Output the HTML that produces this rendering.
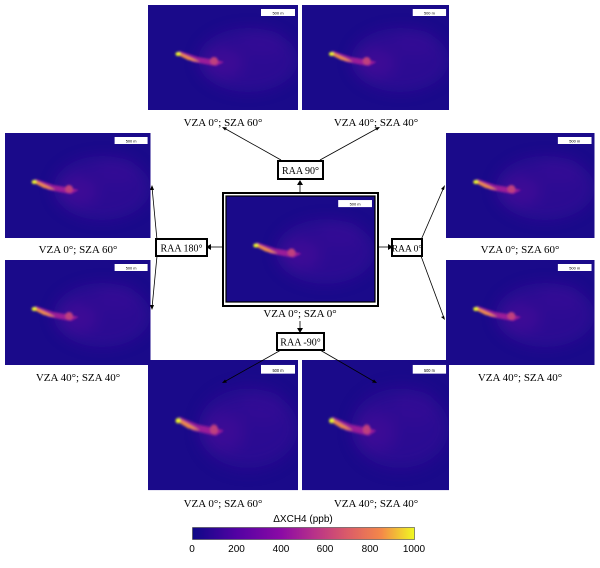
<!DOCTYPE html>
<html><head><style>
body{margin:0;background:#fff;width:600px;height:563px;overflow:hidden;font-family:"Liberation Serif",serif}
</style></head><body>
<svg width="600" height="563" viewBox="0 0 600 563" xmlns="http://www.w3.org/2000/svg">
<defs>
<clipPath id="pc"><rect width="150" height="105"/></clipPath>
<filter id="b1" x="-50%" y="-50%" width="200%" height="200%"><feGaussianBlur stdDeviation="7"/></filter>
<filter id="b2" x="-50%" y="-50%" width="200%" height="200%"><feGaussianBlur stdDeviation="1"/></filter>
<linearGradient id="cb" x1="0" x2="1">
<stop offset="0" stop-color="#0d0887"/><stop offset="0.2" stop-color="#5302a3"/><stop offset="0.4" stop-color="#8b0aa5"/><stop offset="0.55" stop-color="#b83289"/><stop offset="0.7" stop-color="#db5c68"/><stop offset="0.85" stop-color="#f48849"/><stop offset="1" stop-color="#f0f921"/></linearGradient>
<g id="plume">
<g clip-path="url(#pc)">
<rect width="150" height="105" fill="#1a0a8a"/>
<g filter="url(#b1)" opacity="0.55">
<ellipse cx="100" cy="55" rx="50" ry="32" fill="#3a0a9a"/>
<ellipse cx="75" cy="58" rx="20" ry="14" fill="#5a0aa0"/>
<ellipse cx="115" cy="38" rx="22" ry="13" fill="#460a9e"/>
</g>
<g filter="url(#b2)">
<path d="M28 48 L45 57 L68 61 L76 57 L68 55 L50 52 L32 46 Z" fill="#9a1a98"/>
<path d="M28 49 L40 55 L52 57 L44 53 L33 48 Z" fill="#f08a48"/>
<ellipse cx="30" cy="49" rx="2.5" ry="2" fill="#f0f921"/>
<ellipse cx="66" cy="56" rx="4" ry="4" fill="#c0407e"/>
</g>
</g>
<rect x="113" y="4" width="34" height="7" fill="#fff"/>
<text x="130" y="9.5" font-family="Liberation Sans,sans-serif" font-size="4" text-anchor="middle">500 m</text>
</g>
</defs>
<g font-size="11" fill="#000">
<use href="#plume" transform="translate(148,5)"/>
<use href="#plume" transform="translate(302,5) scale(0.98,1)"/>
<text x="223" y="126" text-anchor="middle">VZA 0°; SZA 60°</text>
<text x="376" y="126" text-anchor="middle">VZA 40°; SZA 40°</text>
<use href="#plume" transform="translate(5,133) scale(0.97,1)"/>
<use href="#plume" transform="translate(5,260) scale(0.97,1)"/>
<text x="78" y="253" text-anchor="middle">VZA 0°; SZA 60°</text>
<text x="78" y="381" text-anchor="middle">VZA 40°; SZA 40°</text>
<use href="#plume" transform="translate(446,133) scale(0.99,1)"/>
<use href="#plume" transform="translate(446,260) scale(0.99,1)"/>
<text x="520" y="253" text-anchor="middle">VZA 0°; SZA 60°</text>
<text x="520" y="381" text-anchor="middle">VZA 40°; SZA 40°</text>
<use href="#plume" transform="translate(148,360) scale(1,1.24)"/>
<use href="#plume" transform="translate(302,360) scale(0.98,1.24)"/>
<text x="223" y="507" text-anchor="middle">VZA 0°; SZA 60°</text>
<text x="376" y="507" text-anchor="middle">VZA 40°; SZA 40°</text>
<rect x="223" y="193" width="155" height="113" fill="#fff" stroke="#000" stroke-width="2"/>
<use href="#plume" transform="translate(226,196) scale(0.993,1.01)"/>
<rect x="226" y="196" width="149" height="106" fill="none" stroke="#000" stroke-width="1.2"/>
<text x="300" y="317" text-anchor="middle">VZA 0°; SZA 0°</text>
<g stroke="#000" stroke-width="0.8" fill="none">
<line x1="300" y1="193" x2="300" y2="182"/>
<line x1="281" y1="160" x2="224" y2="128"/>
<line x1="320" y1="160" x2="378" y2="128"/>
<line x1="223" y1="247" x2="208" y2="247"/>
<line x1="157" y1="240" x2="152" y2="187"/>
<line x1="157" y1="256" x2="152" y2="308"/>
<line x1="378" y1="247" x2="391" y2="247"/>
<line x1="421" y1="240" x2="444" y2="187"/>
<line x1="421" y1="256" x2="444" y2="318"/>
<line x1="300" y1="321" x2="300" y2="331"/>
<line x1="281" y1="350" x2="224" y2="382"/>
<line x1="320" y1="350" x2="375" y2="382"/>
</g>
<g fill="#000">
<path d="M300 180 l-3 5 h6z"/>
<path d="M222 127 l5 0.5 l-2 3z"/>
<path d="M380 127 l-5 0.5 l2 3z"/>
<path d="M206 247 l5 -3 v6z"/>
<path d="M152 185 l-2 5 l4 0z"/>
<path d="M152 310 l-2 -5 l4 0z"/>
<path d="M393 247 l-5 -3 v6z"/>
<path d="M445 185 l-1 5 l-3 -1z"/>
<path d="M445 320 l-4 -3 l3 -1z"/>
<path d="M300 333 l-3 -5 h6z"/>
<path d="M222 383 l3 -3.5 l2 3z"/>
<path d="M377 383 l-3 -3.5 l-2 3z"/>
</g>
<g fill="#fff" stroke="#000" stroke-width="2">
<rect x="278" y="161" width="45" height="18"/>
<rect x="156" y="239" width="51" height="17"/>
<rect x="392" y="239" width="30" height="17"/>
<rect x="277" y="333" width="47" height="17"/>
</g>
<g font-size="10">
<text x="300.5" y="174" text-anchor="middle">RAA 90°</text>
<text x="181.5" y="251.5" text-anchor="middle">RAA 180°</text>
<text x="407" y="251.5" text-anchor="middle" font-size="9.5">RAA 0°</text>
<text x="300.5" y="345.5" text-anchor="middle">RAA -90°</text>
</g>
</g>
<text x="303" y="522" text-anchor="middle" font-family="Liberation Sans,sans-serif" font-size="10">ΔXCH4 (ppb)</text>
<rect x="192.5" y="527.5" width="222" height="12" fill="url(#cb)" stroke="#444" stroke-width="0.6"/>
<g font-family="Liberation Sans,sans-serif" font-size="10" text-anchor="middle">
<text x="192" y="552">0</text><text x="236.5" y="552">200</text><text x="281" y="552">400</text><text x="325" y="552">600</text><text x="370" y="552">800</text><text x="414" y="552">1000</text>
</g>
</svg>
</body></html>
